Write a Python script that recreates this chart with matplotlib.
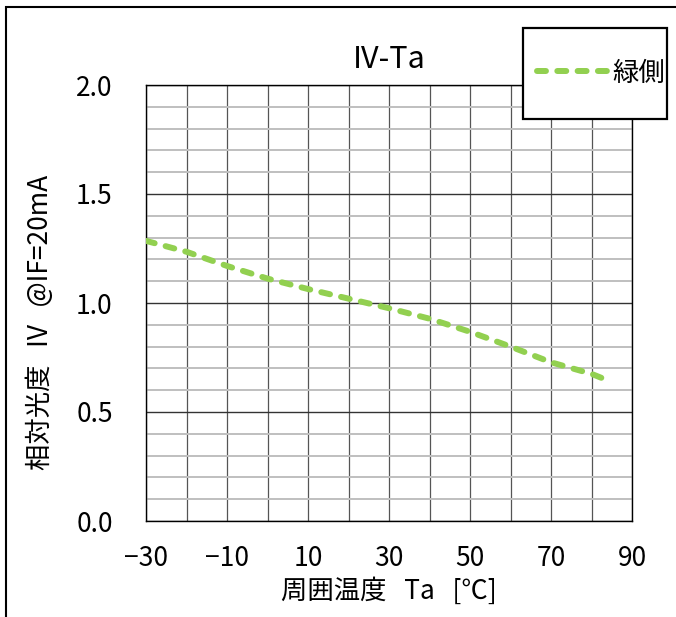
import matplotlib
matplotlib.use("Agg")
import matplotlib.pyplot as plt
from matplotlib.patches import Rectangle
from matplotlib.lines import Line2D
from matplotlib.ticker import MultipleLocator

plt.rcParams['font.family'] = ['Noto Sans CJK JP', 'DejaVu Sans']

# data
temp = [-30, -20, -10, 0, 10, 20, 30, 40, 50, 60, 70, 80, 84]
iv = [1.285, 1.235, 1.17, 1.112, 1.064, 1.02, 0.976, 0.928, 0.868, 0.80, 0.728, 0.675, 0.645]
series_name = '緑側'
x_ticks = [-30, -10, 10, 30, 50, 70, 90]
y_ticks = [0.0, 0.5, 1.0, 1.5, 2.0]

W, H = 676, 617
fig = plt.figure(figsize=(W / 100, H / 100), dpi=100)
ax = fig.add_axes([146 / W, 1 - 521 / H, (632 - 146) / W, (521 - 85) / H])

green = '#92D050'
ax.plot(temp, iv, color=green, lw=4.3, dashes=(1.5, 1.9),
        dash_capstyle='round', zorder=3)

ax.set_xlim(-30, 90)
ax.set_ylim(0, 2.0)
ax.set_xticks(x_ticks)
ax.set_yticks(y_ticks)
ax.set_yticklabels([f'{v:.1f}' for v in y_ticks])
ax.xaxis.set_minor_locator(MultipleLocator(10))
ax.yaxis.set_minor_locator(MultipleLocator(0.1))

ax.grid(which='minor', axis='y', color='#BFBFBF', lw=1.4)
ax.grid(which='major', axis='y', color='#333333', lw=1.0)
ax.grid(which='both', axis='x', color='#555555', lw=0.9)
ax.set_axisbelow(True)
for s in ax.spines.values():
    s.set_color('black')
    s.set_linewidth(1.0)

ax.tick_params(which='both', length=0, labelsize=19)
ax.tick_params(axis='y', pad=24)
ax.tick_params(axis='x', pad=17)

ax.set_title('IV-Ta', fontsize=22, pad=12)
ax.set_xlabel('周囲温度   Ta   [℃]', fontsize=19, labelpad=4)
ax.set_ylabel('相対光度   IV   @IF=20mA', fontsize=19)
ax.yaxis.set_label_coords(-0.19, 0.456)

# outer frame (right and bottom edges fall outside the image)
fig.patches.append(Rectangle((6 / W, -0.1), 1.2, 1 - 7 / H + 0.1,
                             transform=fig.transFigure, fill=False,
                             edgecolor='black', lw=1.5))

# legend box
fig.patches.append(Rectangle((523 / W, 1 - 119 / H), 144 / W, 91 / H,
                             transform=fig.transFigure, facecolor='white',
                             edgecolor='black', lw=1.6, zorder=4))
handle = Line2D([], [], color=green, lw=4.3, dashes=(1.5, 1.9),
                dash_capstyle='round')
fig.legend([handle], [series_name], loc='center',
           bbox_to_anchor=(601 / W, 1 - 73 / H), frameon=False,
           fontsize=19, handlelength=2.7, handletextpad=0.15)

fig.savefig('out.png', dpi=100)
